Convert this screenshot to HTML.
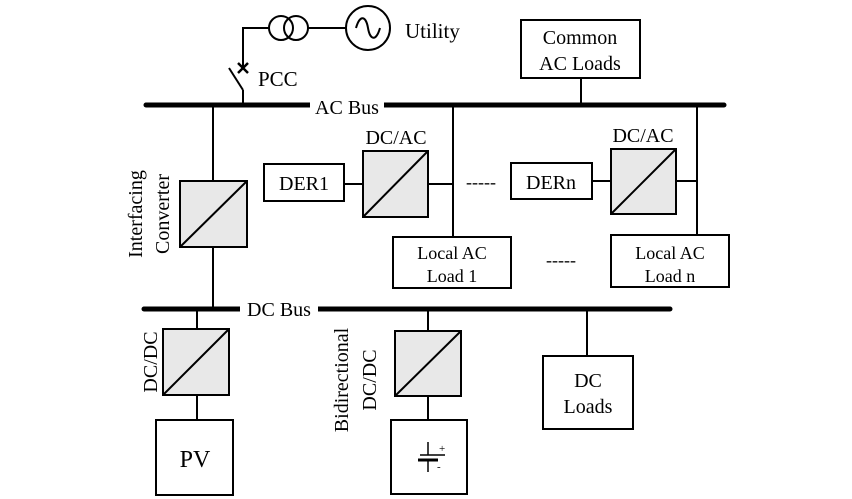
<!DOCTYPE html>
<html><head><style>html,body{margin:0;padding:0;background:#fff}svg{display:block}</style></head>
<body>
<svg width="852" height="499" viewBox="0 0 852 499" xmlns="http://www.w3.org/2000/svg" font-family="Liberation Serif, serif" fill="none" stroke="#000" stroke-width="2">
<!-- AC bus -->
<line x1="146" y1="105" x2="724" y2="105" stroke-width="5" stroke-linecap="round"/>
<rect x="310" y="96" width="74" height="18" fill="#fff" stroke="none"/>
<text x="347" y="114" font-size="20" fill="#000" stroke="none" text-anchor="middle">AC Bus</text>
<!-- PCC / utility -->
<polyline points="243,105 243,90"/>
<line x1="243" y1="90" x2="229" y2="68"/>
<polyline points="243,68 243,28 269,28"/>
<line x1="238" y1="63" x2="248" y2="73" stroke-width="2.5"/>
<line x1="248" y1="63" x2="238" y2="73" stroke-width="2.5"/>
<circle cx="281" cy="28" r="12"/>
<circle cx="296" cy="28" r="12"/>
<line x1="308" y1="28" x2="346" y2="28"/>
<circle cx="368" cy="28" r="22"/>
<path d="M356,28 C360,14 366,16 368,28 C370,40 376,42 380,28"/>
<text x="405" y="38" font-size="21" fill="#000" stroke="none">Utility</text>
<text x="258" y="86" font-size="21" fill="#000" stroke="none">PCC</text>
<!-- Common AC loads -->
<rect x="521" y="20" width="119" height="58"/>
<line x1="581" y1="78" x2="581" y2="105"/>
<text x="580" y="44" font-size="20" fill="#000" stroke="none" text-anchor="middle">Common</text>
<text x="580" y="70" font-size="20" fill="#000" stroke="none" text-anchor="middle">AC Loads</text>
<!-- interfacing converter -->
<line x1="213" y1="105" x2="213" y2="309"/>
<rect x="180" y="181" width="67" height="66" fill="#e8e8e8"/>
<line x1="180" y1="247" x2="247" y2="181"/>
<text transform="translate(142,214) rotate(-90)" font-size="20" fill="#000" stroke="none" text-anchor="middle">Interfacing</text>
<text transform="translate(169,214) rotate(-90)" font-size="20" fill="#000" stroke="none" text-anchor="middle">Converter</text>
<!-- DER1 branch -->
<rect x="264" y="164" width="80" height="37"/>
<text x="304" y="190" font-size="20" fill="#000" stroke="none" text-anchor="middle">DER1</text>
<line x1="344" y1="184" x2="363" y2="184"/>
<rect x="363" y="151" width="65" height="66" fill="#e8e8e8"/>
<line x1="363" y1="217" x2="428" y2="151"/>
<text x="396" y="144" font-size="20" fill="#000" stroke="none" text-anchor="middle">DC/AC</text>
<line x1="428" y1="184" x2="453" y2="184"/>
<line x1="453" y1="105" x2="453" y2="237"/>
<rect x="393" y="237" width="118" height="51"/>
<text x="452" y="259" font-size="18" fill="#000" stroke="none" text-anchor="middle">Local AC</text>
<text x="452" y="282" font-size="18" fill="#000" stroke="none" text-anchor="middle">Load 1</text>
<text x="481" y="188" font-size="18" fill="#000" stroke="none" text-anchor="middle">-----</text>
<text x="561" y="266" font-size="18" fill="#000" stroke="none" text-anchor="middle">-----</text>
<!-- DERn branch -->
<rect x="511" y="163" width="81" height="36"/>
<text x="551" y="189" font-size="20" fill="#000" stroke="none" text-anchor="middle">DERn</text>
<line x1="592" y1="181" x2="611" y2="181"/>
<rect x="611" y="149" width="65" height="65" fill="#e8e8e8"/>
<line x1="611" y1="214" x2="676" y2="149"/>
<text x="643" y="142" font-size="20" fill="#000" stroke="none" text-anchor="middle">DC/AC</text>
<line x1="676" y1="181" x2="697" y2="181"/>
<line x1="697" y1="105" x2="697" y2="235"/>
<rect x="611" y="235" width="118" height="52"/>
<text x="670" y="259" font-size="18" fill="#000" stroke="none" text-anchor="middle">Local AC</text>
<text x="670" y="282" font-size="18" fill="#000" stroke="none" text-anchor="middle">Load n</text>
<!-- DC bus -->
<line x1="144" y1="309" x2="670" y2="309" stroke-width="5" stroke-linecap="round"/>
<rect x="240" y="299" width="78" height="20" fill="#fff" stroke="none"/>
<text x="279" y="316" font-size="20" fill="#000" stroke="none" text-anchor="middle">DC Bus</text>
<!-- PV -->
<line x1="197" y1="309" x2="197" y2="420"/>
<rect x="163" y="329" width="66" height="66" fill="#e8e8e8"/>
<line x1="163" y1="395" x2="229" y2="329"/>
<text transform="translate(157,362) rotate(-90)" font-size="20" fill="#000" stroke="none" text-anchor="middle">DC/DC</text>
<rect x="156" y="420" width="77" height="75" fill="#fff"/>
<text x="195" y="467" font-size="24" fill="#000" stroke="none" text-anchor="middle">PV</text>
<!-- battery -->
<line x1="428" y1="309" x2="428" y2="420"/>
<rect x="395" y="331" width="66" height="65" fill="#e8e8e8"/>
<line x1="395" y1="396" x2="461" y2="331"/>
<text transform="translate(348,380) rotate(-90)" font-size="20" fill="#000" stroke="none" text-anchor="middle">Bidirectional</text>
<text transform="translate(376,380) rotate(-90)" font-size="20" fill="#000" stroke="none" text-anchor="middle">DC/DC</text>
<rect x="391" y="420" width="76" height="74" fill="#fff"/>
<line x1="420" y1="455" x2="445" y2="455" stroke-width="1.5"/>
<line x1="428" y1="442" x2="428" y2="455" stroke-width="1.5"/>
<line x1="418" y1="460" x2="438" y2="460" stroke-width="3"/>
<line x1="428" y1="460" x2="428" y2="472" stroke-width="1.5"/>
<text x="439" y="452" font-size="11" fill="#000" stroke="none">+</text>
<text x="437" y="470" font-size="11" fill="#000" stroke="none">-</text>
<!-- DC loads -->
<line x1="587" y1="309" x2="587" y2="356"/>
<rect x="543" y="356" width="90" height="73"/>
<text x="588" y="387" font-size="20" fill="#000" stroke="none" text-anchor="middle">DC</text>
<text x="588" y="413" font-size="20" fill="#000" stroke="none" text-anchor="middle">Loads</text>
</svg>
</body></html>
